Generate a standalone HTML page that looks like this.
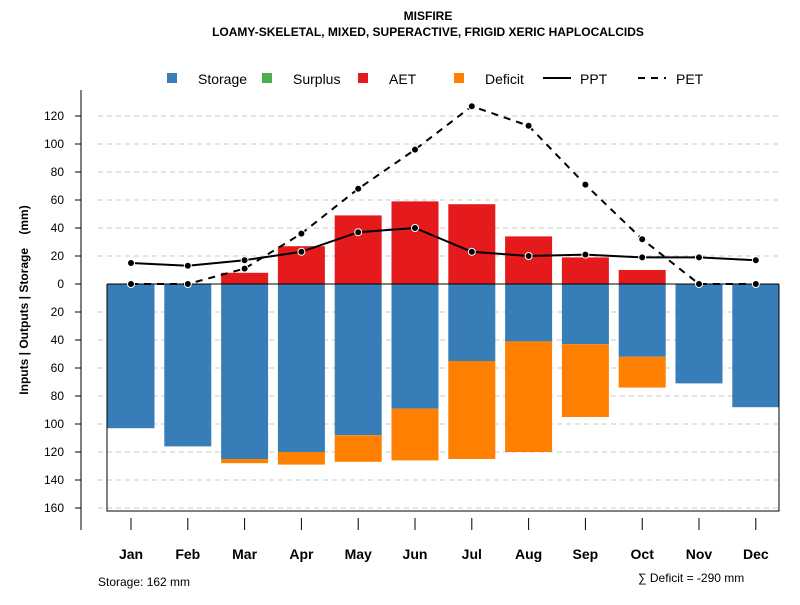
<!DOCTYPE html>
<html><head><meta charset="utf-8"><style>
body{margin:0;background:#fff}
svg text{font-family:"Liberation Sans",sans-serif}
</style></head><body>
<svg id="c" width="800" height="600" xmlns="http://www.w3.org/2000/svg">
<text x="428" y="20" text-anchor="middle" font-size="12" font-weight="bold">MISFIRE</text>
<text x="428" y="36" text-anchor="middle" font-size="12" font-weight="bold">LOAMY-SKELETAL, MIXED, SUPERACTIVE, FRIGID XERIC HAPLOCALCIDS</text>
<text transform="translate(28,300) rotate(-90)" text-anchor="middle" font-size="12" font-weight="bold">Inputs | Outputs | Storage&#160;&#160;&#160;&#160;(mm)</text>
<text x="98" y="586" font-size="12">Storage: 162 mm</text>
<text x="638" y="582" font-size="12">∑ Deficit = -290 mm</text>
<g id="legend">
<rect x="167" y="73" width="10" height="10" fill="#377eb8"/>
<text x="198" y="84" font-size="14">Storage</text>
<rect x="262" y="73" width="10" height="10" fill="#4daf4a"/>
<text x="293" y="84" font-size="14">Surplus</text>
<rect x="358" y="73" width="10" height="10" fill="#e41a1c"/>
<text x="389" y="84" font-size="14">AET</text>
<rect x="454" y="73" width="10" height="10" fill="#ff7f00"/>
<text x="485" y="84" font-size="14">Deficit</text>
<line x1="543" y1="78" x2="571" y2="78" stroke="#000" stroke-width="2"/>
<text x="580" y="84" font-size="14">PPT</text>
<line x1="638" y1="78" x2="666" y2="78" stroke="#000" stroke-width="2" stroke-dasharray="7,6"/>
<text x="676" y="84" font-size="14">PET</text>
</g>
<g id="plot"></g>
</svg>
<script>
const months=["Jan","Feb","Mar","Apr","May","Jun","Jul","Aug","Sep","Oct","Nov","Dec"];
const storage=[103,116,125,120,108,89,55,41,43,52,71,88];
const deficit=[0,0,3,9,19,37,70,79,52,22,0,0];
const aet=[0,0,8,27,49,59,57,34,19,10,0,0];
const ppt=[15,13,17,23,37,40,23,20,21,19,19,17];
const pet=[0,0,11,36,68,96,127,113,71,32,0,0];
const yTicksUp=[0,20,40,60,80,100,120];
const yTicksDown=[20,40,60,80,100,120,140,160];
const NS="http://www.w3.org/2000/svg";
const g=document.getElementById('plot');
function y(v){return 284-v*1.4;}
function x(i){return 131+i*56.8;}
const bw=47;
function mk(t,a,p){const e=document.createElementNS(NS,t);for(const k in a)e.setAttribute(k,a[k]);(p||g).appendChild(e);return e;}
const all=yTicksUp.map(v=>[v,v]).concat(yTicksDown.map(v=>[-v,v]));
all.forEach(([v,lab])=>{
 if(v!==0){const l=mk('line',{x1:98,x2:780,y1:y(v),y2:y(v),stroke:'#c8c8c8','stroke-dasharray':'5,4'});
 
 }
 const t=mk('line',{x1:75,x2:81,y1:y(v),y2:y(v),stroke:'#000'});
 
 
 const tx=mk('text',{x:64,y:y(v)+4,'text-anchor':'end','font-size':12});tx.textContent=lab;
 
 
});
const ax=mk('line',{x1:81,x2:81,y1:90,y2:530,stroke:'#000'});


months.forEach((m,i)=>{
 const cx=x(i);
 const s=mk('rect',{x:cx-bw/2,y:y(0),width:bw,height:storage[i]*1.4,fill:'#377eb8'});
 
 
 if(deficit[i]>0){const d=mk('rect',{x:cx-bw/2,y:y(-storage[i]),width:bw,height:deficit[i]*1.4,fill:'#ff7f00'});
 
 }
 if(aet[i]>0){const a=mk('rect',{x:cx-bw/2,y:y(aet[i]),width:bw,height:aet[i]*1.4,fill:'#e41a1c'});
 
 }
 const tk=mk('line',{x1:cx,x2:cx,y1:518,y2:530,stroke:'#000'});
 
 
 const lb=mk('text',{x:cx,y:559,'text-anchor':'middle','font-size':14,'font-weight':'bold'});lb.textContent=m;
 
 
});
const box=mk('path',{d:'M107 284 V511 H779 V284',fill:'none',stroke:'#000'});


const zl=mk('line',{x1:107,x2:779,y1:284,y2:284,stroke:'#000'});


function series(arr,name,dash){
 const p=mk('polyline',{points:arr.map((v,i)=>x(i)+','+y(v)).join(' '),fill:'none',stroke:'#000','stroke-width':2});
 if(dash)p.setAttribute('stroke-dasharray','7,6');
 
 
 arr.forEach((v,i)=>{const c=mk('circle',{cx:x(i),cy:y(v),r:3.5,fill:'#000',stroke:'#fff','stroke-width':1});
 
 });
}
series(pet,'pet',true);
series(ppt,'ppt',false);
</script>
</body></html>
